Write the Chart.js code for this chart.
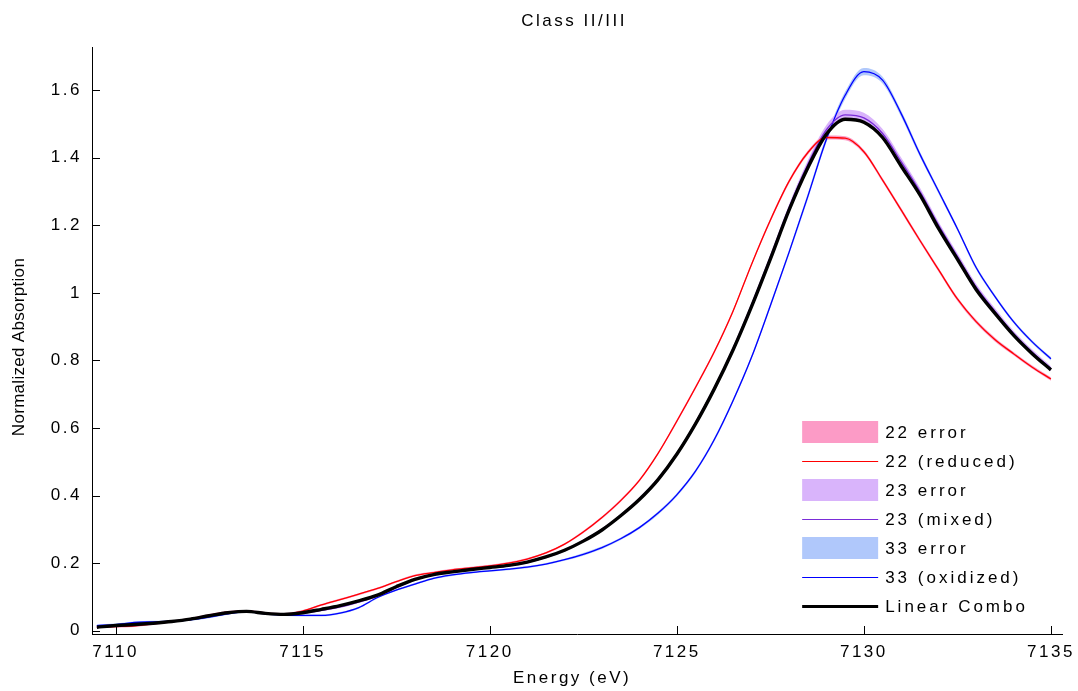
<!DOCTYPE html>
<html>
<head>
<meta charset="utf-8">
<script src="https://cdn.jsdelivr.net/npm/chart.js@4.4.1/dist/chart.umd.min.js"></script>
<style>
  html, body { margin: 0; padding: 0; background: #fff; }
  #wrap { width: 1078px; height: 691px; position: relative; }
</style>
</head>
<body>
<div id="wrap"><canvas id="xas"></canvas></div>
<script>
// energy grid (eV), 0.5 eV steps
var energy = [7109.5, 7110, 7110.5, 7111, 7111.5, 7112, 7112.5, 7113, 7113.5, 7114, 7114.5, 7115, 7115.5,
  7116, 7116.5, 7117, 7117.5, 7118, 7118.5, 7119, 7119.5, 7120, 7120.5, 7121, 7121.5, 7122, 7122.5,
  7123, 7123.5, 7124, 7124.5, 7125, 7125.5, 7126, 7126.5, 7127, 7127.5, 7128, 7128.5, 7129, 7129.5,
  7130, 7130.5, 7131, 7131.5, 7132, 7132.5, 7133, 7133.5, 7134, 7134.5, 7135];

// 22 (reduced)
var reduced22 = [0.010, 0.012, 0.014, 0.020, 0.027, 0.035, 0.046, 0.055, 0.058, 0.052, 0.049, 0.058, 0.076,
  0.092, 0.108, 0.125, 0.145, 0.163, 0.172, 0.180, 0.186, 0.192, 0.200, 0.212, 0.230, 0.256, 0.292,
  0.335, 0.385, 0.445, 0.525, 0.620, 0.720, 0.825, 0.945, 1.085, 1.215, 1.330, 1.415, 1.460, 1.458,
  1.418, 1.334, 1.245, 1.155, 1.068, 0.982, 0.915, 0.862, 0.820, 0.780, 0.745];
var err22 = [0.003, 0.003, 0.003, 0.003, 0.003, 0.003, 0.003, 0.003, 0.003, 0.003, 0.003, 0.003, 0.003,
  0.003, 0.003, 0.003, 0.003, 0.003, 0.003, 0.003, 0.003, 0.003, 0.003, 0.003, 0.003, 0.003, 0.004,
  0.004, 0.004, 0.004, 0.004, 0.005, 0.005, 0.005, 0.005, 0.005, 0.006, 0.006, 0.006, 0.006, 0.006,
  0.006, 0.006, 0.006, 0.006, 0.006, 0.006, 0.006, 0.006, 0.005, 0.005, 0.005];

// 23 (mixed)
var mixed23 = [0.010, 0.015, 0.018, 0.022, 0.027, 0.034, 0.044, 0.053, 0.057, 0.051, 0.048, 0.052, 0.060,
  0.070, 0.085, 0.102, 0.127, 0.151, 0.165, 0.173, 0.180, 0.186, 0.192, 0.202, 0.217, 0.238, 0.266,
  0.299, 0.341, 0.390, 0.449, 0.524, 0.615, 0.718, 0.834, 0.965, 1.106, 1.252, 1.380, 1.483, 1.527,
  1.518, 1.472, 1.388, 1.300, 1.200, 1.108, 1.018, 0.946, 0.880, 0.824, 0.776];
var err23 = [0.003, 0.003, 0.003, 0.003, 0.003, 0.003, 0.003, 0.003, 0.003, 0.003, 0.003, 0.003, 0.003,
  0.003, 0.003, 0.003, 0.003, 0.003, 0.003, 0.003, 0.003, 0.003, 0.003, 0.003, 0.003, 0.004, 0.004,
  0.004, 0.004, 0.005, 0.005, 0.005, 0.006, 0.006, 0.007, 0.008, 0.009, 0.010, 0.012, 0.014, 0.015,
  0.015, 0.013, 0.012, 0.011, 0.010, 0.010, 0.009, 0.009, 0.008, 0.008, 0.007];

// 33 (oxidized)
var oxidized33 = [0.015, 0.018, 0.024, 0.026, 0.028, 0.032, 0.040, 0.050, 0.056, 0.050, 0.046, 0.045, 0.045,
  0.052, 0.068, 0.098, 0.120, 0.138, 0.155, 0.165, 0.172, 0.177, 0.182, 0.188, 0.197, 0.210, 0.226,
  0.246, 0.272, 0.305, 0.348, 0.402, 0.472, 0.565, 0.680, 0.810, 0.962, 1.120, 1.285, 1.455, 1.585,
  1.655, 1.630, 1.530, 1.410, 1.300, 1.190, 1.075, 0.990, 0.915, 0.855, 0.805];
var err33 = [0.003, 0.003, 0.003, 0.003, 0.003, 0.003, 0.003, 0.003, 0.003, 0.003, 0.003, 0.003, 0.003,
  0.003, 0.003, 0.003, 0.003, 0.003, 0.003, 0.003, 0.003, 0.003, 0.003, 0.003, 0.003, 0.003, 0.004,
  0.004, 0.004, 0.004, 0.005, 0.005, 0.005, 0.006, 0.006, 0.006, 0.007, 0.008, 0.009, 0.010, 0.011,
  0.011, 0.010, 0.009, 0.008, 0.007, 0.006, 0.006, 0.005, 0.005, 0.005, 0.005];

// Linear Combo
var linearCombo = [0.010, 0.015, 0.018, 0.022, 0.027, 0.034, 0.044, 0.053, 0.057, 0.051, 0.048, 0.053, 0.063,
  0.074, 0.088, 0.105, 0.130, 0.152, 0.166, 0.174, 0.181, 0.187, 0.193, 0.203, 0.218, 0.238, 0.265,
  0.298, 0.340, 0.388, 0.447, 0.522, 0.612, 0.715, 0.830, 0.960, 1.100, 1.245, 1.370, 1.470, 1.514,
  1.505, 1.460, 1.375, 1.290, 1.190, 1.100, 1.010, 0.940, 0.875, 0.820, 0.772];

var xTicks = [7110, 7115, 7120, 7125, 7130, 7135];
var yTicks = [0, 0.2, 0.4, 0.6, 0.8, 1, 1.2, 1.4, 1.6];
var yTickLabels = ['0', '0.2', '0.4', '0.6', '0.8', '1', '1.2', '1.4', '1.6'];

var legendLabels = ['22 error', '22 (reduced)', '23 error', '23 (mixed)', '33 error', '33 (oxidized)', 'Linear Combo'];

function pts(vals, err, sign) {
  return energy.map(function (e, i) {
    return { x: e, y: err ? vals[i] + sign * err[i] : vals[i] };
  });
}

var FONT = "'Liberation Sans', Arial, Helvetica, sans-serif";
Chart.defaults.font.family = FONT;
Chart.defaults.color = '#000';

function lineSet(label, data, color, w) {
  return { label: label, data: data, borderColor: color, borderWidth: w, pointRadius: 0,
    fill: false, cubicInterpolationMode: 'monotone' };
}
function bandSet(label, data, color, fill) {
  return { label: label, data: data, borderWidth: 0, borderColor: 'rgba(0,0,0,0)', backgroundColor: color,
    pointRadius: 0, fill: fill, cubicInterpolationMode: 'monotone' };
}

var datasets = [
  lineSet('Linear Combo', pts(linearCombo), '#000000', 3.4),
  lineSet('22 (reduced)', pts(reduced22), '#ff0000', 1.3),
  lineSet('23 (mixed)', pts(mixed23), '#7a2cd8', 1.3),
  lineSet('33 (oxidized)', pts(oxidized33), '#0000ff', 1.3),
  bandSet('22 error', pts(reduced22, err22, 1), '#fc9bc6', '+1'),
  bandSet('22 error lo', pts(reduced22, err22, -1), '#fc9bc6', false),
  bandSet('23 error', pts(mixed23, err23, 1), '#d9b4fb', '+1'),
  bandSet('23 error lo', pts(mixed23, err23, -1), '#d9b4fb', false),
  bandSet('33 error', pts(oxidized33, err33, 1), '#b0c8fb', '+1'),
  bandSet('33 error lo', pts(oxidized33, err33, -1), '#b0c8fb', false)
];

// legend entry -> dataset index
var legendMap = [4, 1, 6, 2, 8, 3, 0];

var matlabLook = {
  id: 'matlabLook',
  beforeDraw: function (chart) {
    chart.ctx.letterSpacing = '2.5px';
  },
  afterDraw: function (chart) {
    var ctx = chart.ctx, a = chart.chartArea;
    var xs = chart.scales.x, ys = chart.scales.y;
    ctx.save();
    // inward tick marks
    ctx.strokeStyle = '#000';
    ctx.lineWidth = 1;
    ctx.beginPath();
    xTicks.forEach(function (v) {
      var px = Math.round(xs.getPixelForValue(v)) + 0.5;
      ctx.moveTo(px, a.bottom);
      ctx.lineTo(px, a.bottom - 8);
    });
    yTicks.forEach(function (v) {
      var py = Math.round(ys.getPixelForValue(v)) + 0.5;
      ctx.moveTo(a.left, py);
      ctx.lineTo(a.left + 8, py);
    });
    ctx.stroke();

    // title and axis titles
    ctx.fillStyle = '#000';
    ctx.textAlign = 'center';
    ctx.textBaseline = 'middle';
    ctx.font = '17px ' + FONT;
    ctx.letterSpacing = '2.5px';
    ctx.fillText('Class II/III', (a.left + a.right) / 2 - 3, 21);
    ctx.fillText('Energy (eV)', (a.left + a.right) / 2 - 5, 678);
    ctx.save();
    ctx.translate(19, 347);
    ctx.rotate(-Math.PI / 2);
    ctx.letterSpacing = '0.3px';
    ctx.fillText('Normalized Absorption', 0, 0);
    ctx.restore();

    // legend
    var boxL = a.right - 260, boxW = 76, y0 = a.bottom - 202, step = 29;
    ctx.textAlign = 'left';
    ctx.letterSpacing = '3px';
    legendLabels.forEach(function (lab, i) {
      var ds = chart.data.datasets[legendMap[i]];
      var cy = y0 + i * step;
      if (ds.fill) {
        ctx.fillStyle = ds.backgroundColor;
        ctx.fillRect(boxL, cy - 11, boxW, 22);
      } else {
        ctx.strokeStyle = ds.borderColor;
        ctx.lineWidth = ds.borderWidth > 2 ? 3 : 1.2;
        ctx.beginPath();
        ctx.moveTo(boxL, cy + 0.5);
        ctx.lineTo(boxL + boxW, cy + 0.5);
        ctx.stroke();
      }
      ctx.fillStyle = '#000';
      ctx.fillText(lab, boxL + 83, cy + 1);
    });
    ctx.restore();
  }
};

new Chart(document.getElementById('xas').getContext('2d'), {
  type: 'line',
  data: { datasets: datasets },
  options: {
    responsive: true,
    maintainAspectRatio: false,
    animation: false,
    events: [],
    layout: { padding: { top: 47, right: 14, bottom: 0, left: 0 } },
    plugins: { legend: { display: false }, title: { display: false }, tooltip: { enabled: false } },
    scales: {
      x: {
        type: 'linear',
        min: 7109.37,
        max: 7135.3,
        grid: { display: false, drawTicks: false },
        border: { display: true, color: '#000', width: 1 },
        afterBuildTicks: function (s) { s.ticks = xTicks.map(function (v) { return { value: v }; }); },
        afterFit: function (s) { s.height = 57; },
        ticks: { padding: 8, maxRotation: 0, font: { size: 17 }, color: '#000',
          callback: function (v) { return String(v); } }
      },
      y: {
        type: 'linear',
        min: -0.01,
        max: 1.728,
        grid: { display: false, drawTicks: false },
        border: { display: true, color: '#000', width: 1 },
        afterBuildTicks: function (s) { s.ticks = yTicks.map(function (v) { return { value: v }; }); },
        afterFit: function (s) { s.width = 92; },
        ticks: { padding: 10, font: { size: 17 }, color: '#000',
          callback: function (v, i) { return yTickLabels[i]; } }
      }
    }
  },
  plugins: [matlabLook]
});
</script>
</body>
</html>
